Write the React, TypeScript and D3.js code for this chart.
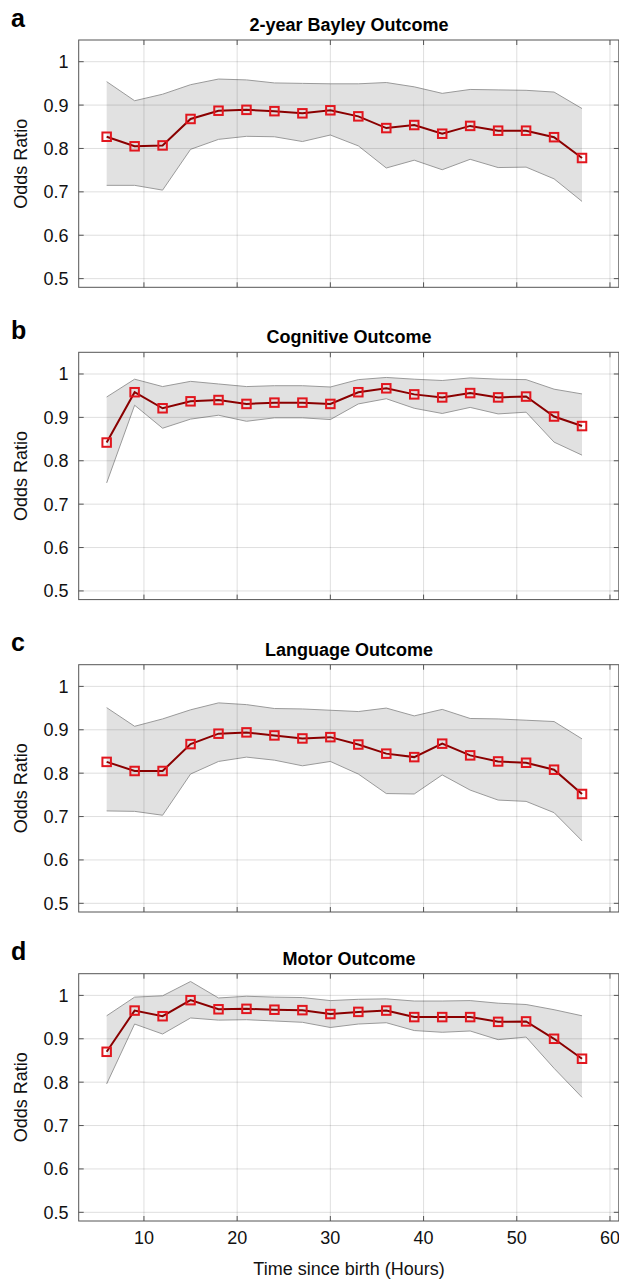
import React from "react";
import * as d3 from "d3";

// time since birth (hours) of each estimate
const hours = [6, 9, 12, 15, 18, 21, 24, 27, 30, 33, 36, 39, 42, 45, 48, 51, 54, 57];

const panelLetters = ["a", "b", "c", "d"];
const panelTitles = ["2-year Bayley Outcome", "Cognitive Outcome", "Language Outcome", "Motor Outcome"];

// odds ratio, lower and upper bound of the band, per outcome
const baylyOR = [0.827, 0.805, 0.807, 0.868, 0.887, 0.889, 0.886, 0.881, 0.888, 0.874, 0.847, 0.854, 0.834, 0.852, 0.841, 0.841, 0.826, 0.778];
const baylyLo = [0.715, 0.715, 0.704, 0.798, 0.821, 0.828, 0.827, 0.816, 0.831, 0.806, 0.755, 0.773, 0.751, 0.775, 0.756, 0.757, 0.73, 0.678];
const baylyHi = [0.954, 0.91, 0.925, 0.947, 0.96, 0.958, 0.951, 0.95, 0.949, 0.949, 0.952, 0.942, 0.927, 0.936, 0.935, 0.934, 0.93, 0.892];

const cogOR = [0.842, 0.958, 0.921, 0.937, 0.94, 0.931, 0.934, 0.934, 0.931, 0.958, 0.967, 0.953, 0.946, 0.956, 0.946, 0.948, 0.902, 0.88];
const cogLo = [0.749, 0.928, 0.875, 0.896, 0.905, 0.891, 0.899, 0.899, 0.895, 0.931, 0.943, 0.921, 0.909, 0.923, 0.908, 0.912, 0.843, 0.813];
const cogHi = [0.947, 0.988, 0.971, 0.983, 0.977, 0.971, 0.973, 0.973, 0.97, 0.987, 0.992, 0.988, 0.985, 0.991, 0.988, 0.987, 0.965, 0.954];

const langOR = [0.826, 0.805, 0.805, 0.867, 0.891, 0.894, 0.887, 0.88, 0.883, 0.866, 0.845, 0.837, 0.868, 0.841, 0.827, 0.824, 0.808, 0.752];
const langLo = [0.713, 0.712, 0.703, 0.798, 0.827, 0.837, 0.83, 0.817, 0.827, 0.798, 0.753, 0.752, 0.796, 0.761, 0.738, 0.735, 0.709, 0.644];
const langHi = [0.951, 0.908, 0.925, 0.946, 0.962, 0.958, 0.949, 0.948, 0.945, 0.942, 0.95, 0.932, 0.947, 0.926, 0.925, 0.922, 0.919, 0.879];

const motorOR = [0.87, 0.965, 0.952, 0.989, 0.968, 0.969, 0.967, 0.966, 0.957, 0.962, 0.965, 0.95, 0.95, 0.95, 0.939, 0.94, 0.9, 0.854];
const motorLo = [0.796, 0.934, 0.911, 0.948, 0.943, 0.944, 0.941, 0.938, 0.926, 0.934, 0.937, 0.919, 0.915, 0.918, 0.898, 0.904, 0.832, 0.765];
const motorHi = [0.953, 0.996, 0.999, 1.032, 0.994, 0.998, 0.996, 0.995, 0.988, 0.991, 0.992, 0.987, 0.987, 0.988, 0.982, 0.979, 0.967, 0.953];

const xTicks = [10, 20, 30, 40, 50, 60];
const yTicks = [0.5, 0.6, 0.7, 0.8, 0.9, 1];

const panels = [
  { or: baylyOR, lo: baylyLo, hi: baylyHi },
  { or: cogOR, lo: cogLo, hi: cogHi },
  { or: langOR, lo: langLo, hi: langHi },
  { or: motorOR, lo: motorLo, hi: motorHi },
];

const W = 619;
const H = 1280;
const left = 78.7;
const right = 619.3;
const panelTops = [40, 352.3, 664.7, 973.7];
const panelH = 247.3;
const font = "'Liberation Sans', Arial, Helvetica, sans-serif";

const x = d3.scaleLinear().domain([3, 61]).range([left, right]);

const Panel = ({ idx }: { idx: number }) => {
  const top = panelTops[idx];
  const bottom = top + panelH;
  const y = d3.scaleLinear().domain([0.48, 1.05]).range([bottom, top]);
  const p = panels[idx];
  const pts = hours.map((h, i) => ({ h, or: p.or[i], lo: p.lo[i], hi: p.hi[i] }));

  const area = d3.area<any>().x(d => x(d.h)).y0(d => y(d.lo)).y1(d => y(d.hi));
  const lineLo = d3.line<any>().x(d => x(d.h)).y(d => y(d.lo));
  const lineHi = d3.line<any>().x(d => x(d.h)).y(d => y(d.hi));
  const lineOR = d3.line<any>().x(d => x(d.h)).y(d => y(d.or));
  const isLast = idx === panels.length - 1;
  const ms = 8.5;

  return (
    <g>
      <rect x={left} y={top} width={right - left} height={panelH} fill="#fff" />
      <path d={area(pts) || ""} fill="#e1e1e1" stroke="none" />
      <path d={lineLo(pts) || ""} fill="none" stroke="#9a9a9a" strokeWidth={1} />
      <path d={lineHi(pts) || ""} fill="none" stroke="#9a9a9a" strokeWidth={1} />

      {/* grid */}
      {xTicks.map(t => (
        <line key={"gx" + t} x1={x(t)} x2={x(t)} y1={top} y2={bottom} stroke="#262626" strokeOpacity={0.15} strokeWidth={1} />
      ))}
      {yTicks.map(t => (
        <line key={"gy" + t} x1={left} x2={right} y1={y(t)} y2={y(t)} stroke="#262626" strokeOpacity={0.15} strokeWidth={1} />
      ))}

      <path d={lineOR(pts) || ""} fill="none" stroke="#8a0000" strokeWidth={2} />
      {pts.map(d => (
        <rect key={"m" + d.h} x={x(d.h) - ms / 2} y={y(d.or) - ms / 2} width={ms} height={ms}
          fill="none" stroke="#e2161e" strokeWidth={2} />
      ))}

      {/* box and inward ticks */}
      <rect x={left} y={top} width={right - left - 0.5} height={panelH} fill="none" stroke="#555" strokeWidth={1} />
      {xTicks.map(t => (
        <g key={"tx" + t}>
          <line x1={x(t)} x2={x(t)} y1={top} y2={top + 5} stroke="#555" />
          <line x1={x(t)} x2={x(t)} y1={bottom} y2={bottom - 5} stroke="#555" />
        </g>
      ))}
      {yTicks.map(t => (
        <g key={"ty" + t}>
          <line x1={left} x2={left + 5} y1={y(t)} y2={y(t)} stroke="#555" />
          <line x1={right - 0.5} x2={right - 5.5} y1={y(t)} y2={y(t)} stroke="#555" />
          <text x={68.5} y={y(t)} dy="0.36em" textAnchor="end" fontSize={18} fill="#111">{d3.format("")(t)}</text>
        </g>
      ))}
      {isLast && xTicks.map(t => (
        <text key={"lx" + t} x={x(t)} y={bottom + 23.3} textAnchor="middle" fontSize={18} fill="#111">{t}</text>
      ))}

      <text transform={`translate(26.5, ${(top + bottom) / 2}) rotate(-90)`} textAnchor="middle" fontSize={18} fill="#111">Odds Ratio</text>
      <text x={(left + right) / 2} y={top - 9} textAnchor="middle" fontSize={18} fontWeight="bold" fill="#000">{panelTitles[idx]}</text>
      <text x={11} y={top - 13.5} fontSize={25} fontWeight="bold" fill="#000">{panelLetters[idx]}</text>
    </g>
  );
};

export default function App() {
  return (
    <svg width={W} height={H} style={{ position: "absolute", left: 0, top: 0, fontFamily: font, background: "#fff" }}>
      <rect width={W} height={H} fill="#fff" />
      {panels.map((_, i) => <Panel key={i} idx={i} />)}
      <text x={(left + right) / 2} y={1275} textAnchor="middle" fontSize={18} fill="#111">Time since birth (Hours)</text>
    </svg>
  );
}
